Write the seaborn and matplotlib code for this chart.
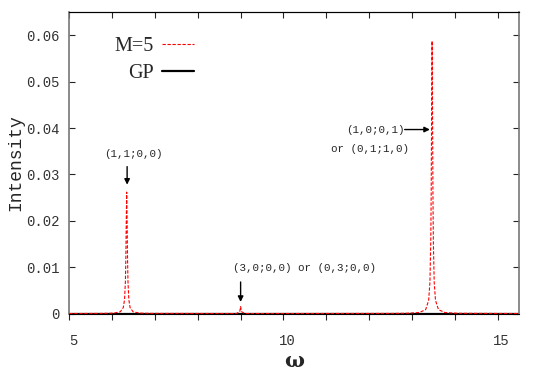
import seaborn as sns
import numpy as np
import matplotlib.pyplot as plt
import matplotlib.transforms as mtrans
import pandas as pd

# spectrum (M=5 curve, red dashed)
omega = [5.0, 5.8, 6.04, 6.19, 6.26, 6.29, 6.31, 6.32, 6.33, 6.34, 6.35, 6.36, 6.37,
         6.39, 6.42, 6.49, 6.64, 6.9, 8.9, 8.98, 9.0, 9.02, 9.1, 12.5, 12.87, 13.17,
         13.32, 13.39, 13.42, 13.44, 13.45, 13.46, 13.47, 13.48, 13.49, 13.50, 13.52,
         13.55, 13.62, 13.77, 14.07, 15.5]
intensity_m5 = [0.0, 0.00003, 0.00009, 0.00037, 0.00126, 0.0030, 0.0069, 0.0117, 0.0200,
                0.0262, 0.0200, 0.0117, 0.0069, 0.0030, 0.00126, 0.00037, 0.00009, 0.00003,
                0.0, 0.0004, 0.0015, 0.0004, 0.0, 0.00002, 0.00005, 0.00021, 0.00083,
                0.00283, 0.00674, 0.0156, 0.0263, 0.0449, 0.0588, 0.0449, 0.0263, 0.0156,
                0.00674, 0.00283, 0.00083, 0.00021, 0.00005, 0.0]

# GP curve, lies on the baseline
omega_gp = [5.0, 15.5]
intensity_gp = [0.0, 0.0]

yticks = [0, 0.01, 0.02, 0.03, 0.04, 0.05, 0.06]
ytick_labels = ['0', '0.01', '0.02', '0.03', '0.04', '0.05', '0.06']
xticks = [5, 10, 15]

df_m5 = pd.DataFrame({'omega': omega, 'I': intensity_m5})
df_gp = pd.DataFrame({'omega': omega_gp, 'I': intensity_gp})

sns.set_style('white')
plt.rcParams['font.family'] = ['Liberation Mono', 'DejaVu Sans']

fig = plt.figure(figsize=(5.38, 3.77), dpi=100)
ax = fig.add_axes([0.1288, 0.1684, 0.9647 - 0.1288, 0.9674 - 0.1684])

sns.lineplot(data=df_gp, x='omega', y='I', ax=ax, color='black', lw=1.6, label='GP', zorder=2)
sns.lineplot(data=df_m5, x='omega', y='I', ax=ax, color='red', lw=0.8, label='M=5',
             zorder=3, linestyle=(0, (3, 1.5)))

ax.set_xlim(5, 15.5)
ax.set_ylim(0, 0.065)
ax.set_xticks(xticks)
ax.set_xticks(np.arange(5, 16), minor=True)
ax.set_yticks(yticks)
ax.set_yticklabels(ytick_labels)

ax.tick_params(axis='x', which='both', direction='out', bottom=True, top=False,
               length=4, width=0.8, pad=11, labelsize=10, labelcolor='#333333')
ax.tick_params(axis='y', which='both', direction='in', left=True, right=True,
               length=4, width=0.8, pad=7, labelsize=10, labelcolor='#333333')
shift = mtrans.ScaledTranslation(4 / 100, 0, fig.dpi_scale_trans)
for lab in ax.get_xticklabels():
    lab.set_transform(lab.get_transform() + shift)

top = ax.secondary_xaxis('top')
top.set_xticks(np.arange(5, 16))
top.tick_params(direction='in', length=4, width=0.8, labeltop=False)
top.spines['top'].set_color('black')

for side in ['left', 'right']:
    ax.spines[side].set_color('#777777')
    ax.spines[side].set_linewidth(1.2)
ax.spines['bottom'].set_color('black')
ax.spines['top'].set_color('black')

ax.set_ylabel('Intensity', fontsize=13, labelpad=1)
ax.set_xlabel('ω', fontsize=15, family='DejaVu Serif', fontweight='bold', labelpad=2)

h, l = ax.get_legend_handles_labels()
leg = ax.legend(h[::-1], l[::-1], loc='upper left', bbox_to_anchor=(0.06, 0.978),
                frameon=False, markerfirst=False, handlelength=1.6, handletextpad=0.4,
                prop={'family': 'Liberation Serif', 'size': 14.5}, labelspacing=0.4)

ap = dict(arrowstyle='-|>', color='black', lw=1.0, mutation_scale=8, shrinkA=0, shrinkB=0)
fs = 7.8
ax.text(6.49, 0.0345, '(1,1;0,0)', fontsize=fs, ha='center', va='center')
ax.annotate('', xy=(6.35, 0.0278), xytext=(6.35, 0.0317), arrowprops=ap)
ax.text(8.82, 0.0098, '(3,0;0,0) or (0,3;0,0)', fontsize=fs, ha='left', va='center')
ax.annotate('', xy=(9.0, 0.0025), xytext=(9.0, 0.0068), arrowprops=ap)
ax.text(12.83, 0.0397, '(1,0;0,1)', fontsize=fs, ha='right', va='center')
ax.annotate('', xy=(13.42, 0.0397), xytext=(12.83, 0.0397), arrowprops=ap)
ax.text(11.11, 0.0356, 'or (0,1;1,0)', fontsize=fs, ha='left', va='center')

fig.savefig('out.png', dpi=100)
